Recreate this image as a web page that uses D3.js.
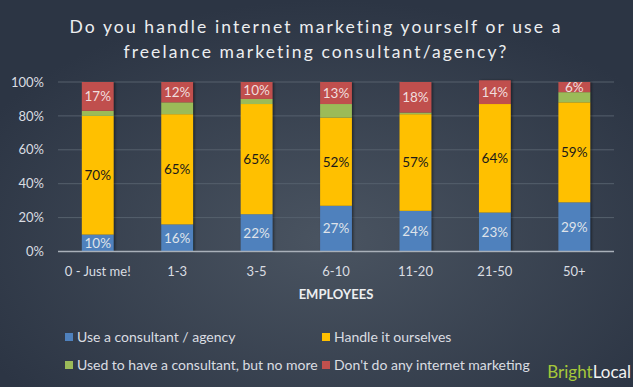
<!DOCTYPE html>
<html>
<head>
<script src="https://cdn.jsdelivr.net/npm/d3@7"></script>
<style>
	body { margin: 0; background: #2e3746; }
	svg { display: block; }
	text { font-family: Lato, "Open Sans", sans-serif; }
</style>
</head>
<body>
<div id="container"></div>
<script>
	const width = 633, height = 387;

	// data
	const categories = ["0 - Just me!", "1-3", "3-5", "6-10", "11-20", "21-50", "50+"];
	const seriesNames = ["Use a consultant / agency", "Handle it ourselves", "Used to have a consultant, but no more", "Don't do any internet marketing"];
	const consultant = [10, 16, 22, 27, 24, 23, 29];
	const ourselves  = [70, 65, 65, 52, 57, 64, 59];
	const usedTo     = [3, 7, 3, 8, 1, 0, 6];
	const noMarketing = [17, 12, 10, 13, 18, 14, 6];
	const yTicks = [0, 20, 40, 60, 80, 100];
	const colors = ["#4f81bd", "#ffc000", "#9bbb59", "#c0504d"];
	const labelColors = ["#dfe3ea", "#1a1a1a", null, "#f0dede"];

	const rows = categories.map((c, i) => ({
		cat: c, s0: consultant[i], s1: ourselves[i], s2: usedTo[i], s3: noMarketing[i]
	}));
	const stack = d3.stack().keys(["s0", "s1", "s2", "s3"])(rows);

	const svg = d3.select("#container").append("svg").attr("width", width).attr("height", height);

	// background
	const defs = svg.append("defs");
	const grad = defs.append("radialGradient").attr("id", "bg")
		.attr("cx", "0.52").attr("cy", "0.62").attr("r", "0.62");
	grad.append("stop").attr("offset", "0%").attr("stop-color", "#4a5461");
	grad.append("stop").attr("offset", "100%").attr("stop-color", "#2c3544");
	svg.append("rect").attr("width", width).attr("height", height).attr("fill", "url(#bg)");

	const shadow = defs.append("filter").attr("id", "sh").attr("x", "-20%").attr("width", "150%");
	shadow.append("feDropShadow").attr("dx", 1.5).attr("dy", 0).attr("stdDeviation", 1.2)
		.attr("flood-color", "#111").attr("flood-opacity", 0.45);

	// title
	svg.append("g").selectAll("text")
		.data(["Do you handle internet marketing yourself or use a", "freelance marketing consultant/agency?"])
		.enter().append("text")
		.attr("x", 316).attr("y", (d, i) => 33 + i * 25)
		.attr("text-anchor", "middle").attr("fill", "#eceef0")
		.attr("font-size", 17.5).attr("letter-spacing", 2.1)
		.text(d => d);

	const x = d3.scaleBand().domain(categories).range([58, 614]).paddingInner(0.6).paddingOuter(0.3);
	const y = d3.scaleLinear().domain([0, 100]).range([251.5, 82]);

	// gridlines
	svg.append("g").selectAll("line").data(yTicks.slice(1)).enter().append("line")
		.attr("x1", 58).attr("x2", 614)
		.attr("y1", d => y(d)).attr("y2", d => y(d))
		.attr("stroke", "#56606d").attr("stroke-width", 1);

	// y axis
	const yAxis = d3.axisLeft(y).tickValues(yTicks).tickSize(0).tickPadding(0).tickFormat(d => d + "%");
	const gy = svg.append("g").attr("transform", "translate(44,0)").call(yAxis);
	gy.select(".domain").remove();
	gy.selectAll("text").attr("fill", "#dadde2").attr("font-size", 13).attr("font-family", "Lato, sans-serif");

	// bars
	const layers = svg.append("g").attr("filter", "url(#sh)").selectAll("g").data(stack).enter().append("g")
		.attr("fill", (d, i) => colors[i]);
	layers.selectAll("rect").data(d => d).enter().append("rect")
		.attr("x", d => x(d.data.cat))
		.attr("width", x.bandwidth())
		.attr("y", d => y(d[1]))
		.attr("height", d => y(d[0]) - y(d[1]));

	// value labels
	stack.forEach((layer, i) => {
		if (!labelColors[i]) return;
		svg.append("g").selectAll("text").data(layer).enter().append("text")
			.attr("x", d => x(d.data.cat) + x.bandwidth() / 2)
			.attr("y", d => (y(d[0]) + y(d[1])) / 2)
			.attr("dy", "0.36em")
			.attr("text-anchor", "middle")
			.attr("fill", labelColors[i])
			.attr("font-size", 13.5)
			.text(d => (d[1] - d[0]) + "%");
	});

	// x axis
	const xAxis = d3.axisBottom(x).tickSize(0).tickPadding(15);
	const gx = svg.append("g").attr("transform", "translate(0," + y(0) + ")").call(xAxis);
	gx.select(".domain").attr("stroke", "#a9b0b9").attr("stroke-width", 1.5).attr("d", "M58,0H614");
	gx.selectAll("text").attr("fill", "#dadde2").attr("font-size", 13).attr("font-family", "Lato, sans-serif");

	svg.append("text").attr("x", 336).attr("y", 299).attr("text-anchor", "middle")
		.attr("fill", "#eceef0").attr("font-size", 13).attr("font-weight", "bold").text("EMPLOYEES");

	// legend
	const legend = svg.append("g").selectAll("g").data(seriesNames).enter().append("g")
		.attr("transform", (d, i) => "translate(" + (i % 2 ? 322 : 65) + "," + (i < 2 ? 337 : 365) + ")");
	legend.append("rect").attr("y", -4).attr("width", 8).attr("height", 8).attr("fill", (d, i) => colors[i]);
	legend.append("text").attr("x", 12).attr("dy", "0.36em").attr("fill", "#dadde2").attr("font-size", 14).text(d => d);

	// logo
	const logo = svg.append("text").attr("x", 631).attr("y", 378).attr("text-anchor", "end")
		.attr("font-size", 17).attr("font-family", "'Liberation Sans Narrow', 'Roboto Condensed', sans-serif");
	logo.append("tspan").attr("fill", "#a6c83a").text("Bright");
	logo.append("tspan").attr("fill", "#f2f2f2").text("Local");
</script>
</body>
</html>
